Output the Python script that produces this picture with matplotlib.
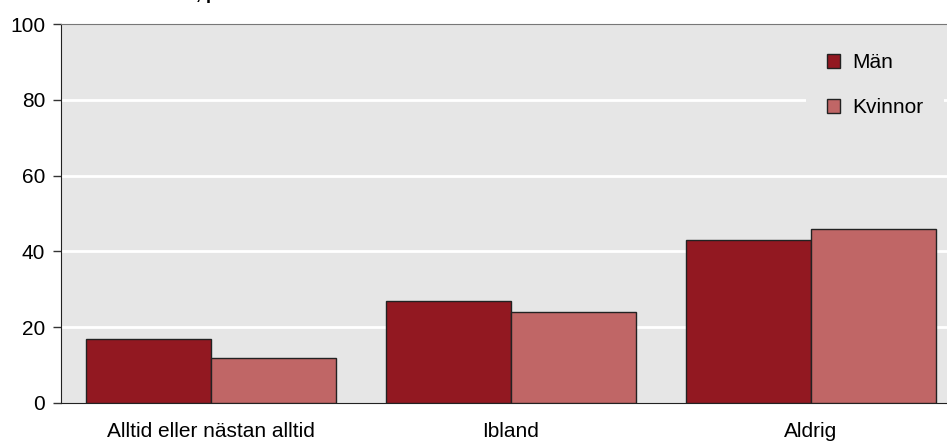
import matplotlib.pyplot as plt
import numpy as np

# data
categories = ["Alltid eller nästan alltid", "Ibland", "Aldrig"]
man = [17, 27, 43]
kvinnor = [12, 24, 46]
series_names = ["Män", "Kvinnor"]

plt.rcParams['font.family'] = ['Liberation Sans', 'DejaVu Sans']

fig = plt.figure(figsize=(9.47, 4.41), dpi=100)
# axes runs a bit past the right edge, as in the original
ax = fig.add_axes([61 / 947, 38 / 441, 900 / 947, 379 / 441])
ax.set_facecolor("#e6e6e6")

x = np.arange(len(categories))
w = 125 / 300
ax.bar(x - w / 2, man, w, color="#921821", edgecolor="#222222", linewidth=1, label=series_names[0], zorder=3)
ax.bar(x + w / 2, kvinnor, w, color="#c06666", edgecolor="#222222", linewidth=1, label=series_names[1], zorder=3)

ax.set_xlim(-0.5, 2.5)
ax.set_ylim(0, 100)
ax.set_yticks([0, 20, 40, 60, 80, 100])
ax.set_xticks(x)
ax.set_xticklabels(categories)
ax.tick_params(axis="x", length=0, labelsize=15, pad=14)
ax.tick_params(axis="y", length=6, labelsize=15, width=1, pad=5.5, color="#333333")

for y in [20, 40, 60, 80]:
    ax.axhline(y, color="white", linewidth=2, zorder=1)

ax.spines["right"].set_visible(False)
ax.spines["top"].set_color("#777777")
ax.spines["left"].set_color("#222222")
ax.spines["bottom"].set_color("#222222")

leg = ax.legend(loc="upper left", bbox_to_anchor=((806 - 61) / 900, 0.978), frameon=True,
                facecolor="#e6e6e6", edgecolor="none", framealpha=1, fontsize=15,
                handlelength=0.63, handleheight=0.63, handletextpad=0.6, labelspacing=1.25,
                borderpad=1.0, borderaxespad=0)
leg.set_zorder(5)

# title cut off at top edge in the original
fig.text(196 / 947, 1 + 1 / 441, ", p", fontsize=13, fontweight="bold", va="baseline", ha="left")

fig.savefig("out.png", dpi=100)
